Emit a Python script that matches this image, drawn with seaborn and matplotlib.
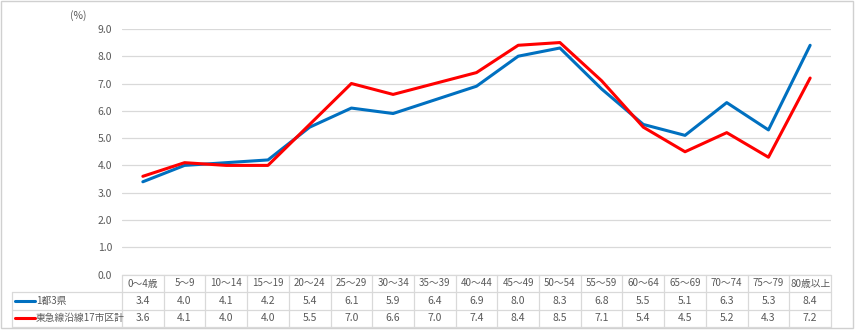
import matplotlib
matplotlib.use("Agg")
import matplotlib.pyplot as plt
import seaborn as sns
import pandas as pd
import numpy as np
from matplotlib.patches import Rectangle

sns.set_theme(style="white")
plt.rcParams["font.family"] = ["Noto Sans CJK JP", "DejaVu Sans"]

age_groups = ["0～4歳", "5～9", "10～14", "15～19", "20～24", "25～29", "30～34",
              "35～39", "40～44", "45～49", "50～54", "55～59", "60～64", "65～69",
              "70～74", "75～79", "80歳以上"]
series_names = ["1都3県", "東急線沿線17市区計"]
metro = [3.4, 4.0, 4.1, 4.2, 5.4, 6.1, 5.9, 6.4, 6.9, 8.0, 8.3, 6.8, 5.5, 5.1, 6.3, 5.3, 8.4]
tokyu = [3.6, 4.1, 4.0, 4.0, 5.5, 7.0, 6.6, 7.0, 7.4, 8.4, 8.5, 7.1, 5.4, 4.5, 5.2, 4.3, 7.2]
colors = ["#0070C0", "#FF0000"]

W, H = 856, 330
fig = plt.figure(figsize=(W / 100, H / 100), dpi=100)
text_color = "#595959"
grid_color = "#D9D9D9"

# plot area in pixel units
x0, x1 = 122, 831
y_top, y_bot = 28.9, 274.6
ax = fig.add_axes([x0 / W, 1 - y_bot / H, (x1 - x0) / W, (y_bot - y_top) / H])

df = pd.DataFrame({
    "pos": list(range(len(age_groups))) * 2,
    "value": metro + tokyu,
    "series": [series_names[0]] * len(metro) + [series_names[1]] * len(tokyu),
})
sns.lineplot(data=df, x="pos", y="value", hue="series", palette=colors,
             linewidth=2.2, ax=ax, legend=False, sort=False, zorder=3)

ax.set_xlim(-0.5, len(age_groups) - 0.5)
ax.set_ylim(0, 9)
ax.set_yticks(np.arange(0, 9.1, 1.0))
ax.set_yticklabels([f"{v:.1f}" for v in np.arange(0, 9.1, 1.0)], color=text_color, fontsize=7.5)
ax.set_xticks([])
ax.set_xlabel("")
ax.set_ylabel("")
ax.tick_params(axis="y", length=0, pad=7)
ax.grid(axis="y", color=grid_color, linewidth=0.9)
ax.grid(axis="x", visible=False)
for s in ax.spines.values():
    s.set_visible(False)
ax.set_facecolor("none")

# overlay in pixel coordinates for the data table and frame
ov = fig.add_axes([0, 0, 1, 1], zorder=-1)
ov.set_xlim(0, W)
ov.set_ylim(H, 0)
ov.axis("off")
ov.patch.set_alpha(0)

ov.add_patch(Rectangle((1, 1), W - 4, H - 3, fill=False, edgecolor="#D0D0D0", linewidth=1))
ov.text(78, 16, "(%)", ha="center", va="center", fontsize=7.5, color=text_color)

tb_color = "#D9D9D9"
row_y = [275, 292, 309.5, 327]
lab_x0 = 12
ncol = len(age_groups)
colw = (x1 - x0) / ncol
col_x = [x0 + colw * i for i in range(ncol + 1)]

# horizontal table lines
ov.plot([x0, x1], [row_y[0], row_y[0]], color=tb_color, lw=0.9)
for y in row_y[1:]:
    ov.plot([lab_x0, x1], [y, y], color=tb_color, lw=0.9)
# vertical table lines
for x in col_x:
    ov.plot([x, x], [row_y[0], row_y[3]], color=tb_color, lw=0.9)
ov.plot([lab_x0, lab_x0], [row_y[1], row_y[3]], color=tb_color, lw=0.9)

for i, g in enumerate(age_groups):
    cx = x0 + colw * (i + 0.5)
    ov.text(cx, (row_y[0] + row_y[1]) / 2, g, ha="center", va="center",
            fontsize=7, color=text_color)
    ov.text(cx, (row_y[1] + row_y[2]) / 2, f"{metro[i]:.1f}", ha="center", va="center",
            fontsize=7.5, color=text_color)
    ov.text(cx, (row_y[2] + row_y[3]) / 2, f"{tokyu[i]:.1f}", ha="center", va="center",
            fontsize=7.5, color=text_color)

for r, (name, c) in enumerate(zip(series_names, colors)):
    yc = (row_y[r + 1] + row_y[r + 2]) / 2
    ov.plot([15, 35], [yc, yc], color=c, lw=2.2)
    ov.text(36, yc, name, ha="left", va="center", fontsize=7, color=text_color)

fig.savefig("out.png", dpi=100)
